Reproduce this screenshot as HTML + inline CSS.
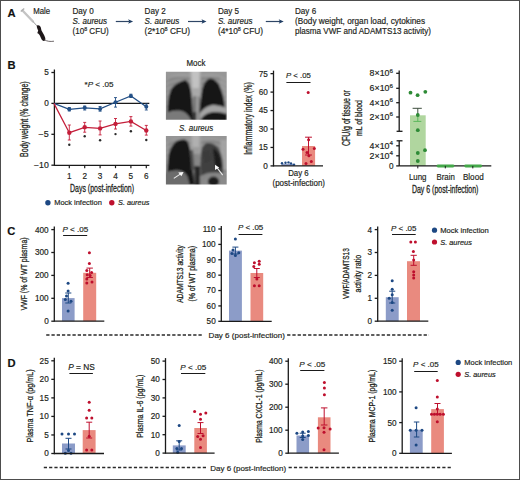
<!DOCTYPE html>
<html><head><meta charset="utf-8"><title>Figure</title>
<style>
html,body{margin:0;padding:0;background:#fff;}
svg{display:block;font-family:"Liberation Sans",sans-serif;}
text{stroke:#231f20;stroke-width:.18px;}
text.h{stroke-width:.28px;}
</style></head>
<body>
<svg width="520" height="480" viewBox="0 0 520 480" fill="#231f20">
<rect width="520" height="480" fill="#fff"/>
<rect x="0.5" y="0.5" width="519" height="479" fill="none" stroke="#4d4d4d" stroke-width="1"/>
<text x="7.4" y="17" font-size="11.2" font-weight="bold" fill="#111">A</text>
<text x="33.2" y="14.3" font-size="8.2" textLength="16.9" lengthAdjust="spacingAndGlyphs">Male</text>
<line x1="22.5" y1="10.5" x2="33" y2="21.5" stroke="#c4c4c4" stroke-width="2.4" stroke-linecap="round"/>
<line x1="33" y1="21.5" x2="37.5" y2="26.5" stroke="#9c9c9c" stroke-width="1"/>
<line x1="20.8" y1="11.6" x2="24.2" y2="8.4" stroke="#b0b0b0" stroke-width="1.4"/>
<path d="M37.4 25.2 C39.4 24.8 40.6 26.2 40.9 27.8 L41.4 30.2 C42.6 32.4 44.2 35 45.1 37.4 C45.8 39.4 45 41.2 43.6 41 C42.2 40.7 41.3 39 40.6 37.2 C40 35.6 39.2 34.6 38.2 33.6 C37.4 32.8 37.8 31.6 38.2 30.6 C37.6 29.6 37.2 28.6 37 27.6 C36.7 26.6 36.7 25.6 37.4 25.2 Z" fill="#1e1719"/>
<path d="M38.6 31.8 L37 33 L38.2 33.6 Z" fill="#2a2022"/>
<path d="M44.5 39.8 C47 41.3 50 41.8 54 41.2" stroke="#4a4245" stroke-width="0.8" fill="none"/>
<text x="72.5" y="14.4" font-size="8.6" textLength="21.16" lengthAdjust="spacingAndGlyphs">Day 0</text>
<text x="72.5" y="24.4" font-size="8.6" font-style="italic" textLength="34.67" lengthAdjust="spacingAndGlyphs">S. aureus</text>
<text x="72.5" y="34.4" font-size="8.6" textLength="36.2" lengthAdjust="spacingAndGlyphs">(10<tspan font-size="5.6" dy="-3.4">8</tspan><tspan dy="3.4"> CFU)</tspan></text>
<text x="144.6" y="14.4" font-size="8.6" textLength="21.16" lengthAdjust="spacingAndGlyphs">Day 2</text>
<text x="144.6" y="24.4" font-size="8.6" font-style="italic" textLength="34.67" lengthAdjust="spacingAndGlyphs">S. aureus</text>
<text x="144.6" y="34.4" font-size="8.6" textLength="45.4" lengthAdjust="spacingAndGlyphs">(2*10<tspan font-size="5.6" dy="-3.4">8</tspan><tspan dy="3.4"> CFU)</tspan></text>
<text x="217.9" y="14.4" font-size="8.6" textLength="21.16" lengthAdjust="spacingAndGlyphs">Day 5</text>
<text x="217.9" y="24.4" font-size="8.6" font-style="italic" textLength="34.67" lengthAdjust="spacingAndGlyphs">S. aureus</text>
<text x="217.9" y="34.4" font-size="8.6" textLength="45.1" lengthAdjust="spacingAndGlyphs">(4*10<tspan font-size="5.6" dy="-3.4">8</tspan><tspan dy="3.4"> CFU)</tspan></text>
<text x="295" y="14.4" font-size="8.6" textLength="21.16" lengthAdjust="spacingAndGlyphs">Day 6</text>
<text x="295" y="24.4" font-size="8.6" textLength="130" lengthAdjust="spacingAndGlyphs">(Body weight, organ load, cytokines</text>
<text x="295" y="34.4" font-size="8.6" textLength="136" lengthAdjust="spacingAndGlyphs">plasma VWF and ADAMTS13 activity)</text>
<line x1="115.8" y1="21.5" x2="129.6" y2="21.5" stroke="#2f4666" stroke-width="1.2" />
<path d="M128.1 19.2 L133.1 21.5 L128.1 23.8 L129.3 21.5 Z" fill="#1f3d63"/>
<line x1="188" y1="21.5" x2="203" y2="21.5" stroke="#2f4666" stroke-width="1.2" />
<path d="M201.5 19.2 L206.5 21.5 L201.5 23.8 L202.7 21.5 Z" fill="#1f3d63"/>
<line x1="265.8" y1="21.5" x2="280.2" y2="21.5" stroke="#2f4666" stroke-width="1.2" />
<path d="M278.7 19.2 L283.7 21.5 L278.7 23.8 L279.9 21.5 Z" fill="#1f3d63"/>
<text x="7.6" y="69.2" font-size="11.2" font-weight="bold" fill="#111">B</text>
<line x1="54.4" y1="69.5" x2="54.4" y2="165.95" stroke="#1a1a1a" stroke-width="1.3" />
<line x1="51.4" y1="72.5" x2="54.4" y2="72.5" stroke="#1a1a1a" stroke-width="1.3" />
<text x="48.8" y="75.41" font-size="8.2" text-anchor="end">5</text>
<line x1="51.4" y1="103.4" x2="54.4" y2="103.4" stroke="#1a1a1a" stroke-width="1.3" />
<text x="48.8" y="106.31" font-size="8.2" text-anchor="end">0</text>
<line x1="51.4" y1="134.3" x2="54.4" y2="134.3" stroke="#1a1a1a" stroke-width="1.3" />
<text x="48.8" y="137.21" font-size="8.2" text-anchor="end" textLength="10.2" lengthAdjust="spacingAndGlyphs">−5</text>
<line x1="51.4" y1="165.2" x2="54.4" y2="165.2" stroke="#1a1a1a" stroke-width="1.3" />
<text x="48.8" y="168.11" font-size="8.2" text-anchor="end" textLength="14.8" lengthAdjust="spacingAndGlyphs">−10</text>
<line x1="69.3" y1="165.2" x2="69.3" y2="168.2" stroke="#1a1a1a" stroke-width="1.2" />
<text x="69.3" y="179.3" font-size="8.2" text-anchor="middle">1</text>
<line x1="84.7" y1="165.2" x2="84.7" y2="168.2" stroke="#1a1a1a" stroke-width="1.2" />
<text x="84.7" y="179.3" font-size="8.2" text-anchor="middle">2</text>
<line x1="100.1" y1="165.2" x2="100.1" y2="168.2" stroke="#1a1a1a" stroke-width="1.2" />
<text x="100.1" y="179.3" font-size="8.2" text-anchor="middle">3</text>
<line x1="115.5" y1="165.2" x2="115.5" y2="168.2" stroke="#1a1a1a" stroke-width="1.2" />
<text x="115.5" y="179.3" font-size="8.2" text-anchor="middle">4</text>
<line x1="130.9" y1="165.2" x2="130.9" y2="168.2" stroke="#1a1a1a" stroke-width="1.2" />
<text x="130.9" y="179.3" font-size="8.2" text-anchor="middle">5</text>
<line x1="146.3" y1="165.2" x2="146.3" y2="168.2" stroke="#1a1a1a" stroke-width="1.2" />
<text x="146.3" y="179.3" font-size="8.2" text-anchor="middle">6</text>
<line x1="54.4" y1="103.4" x2="149.3" y2="103.4" stroke="#1a1a1a" stroke-width="1.3" />
<text x="0" y="0" font-size="10.6" class="h" text-anchor="middle" textLength="75.6" lengthAdjust="spacingAndGlyphs" transform="translate(27.9 119.1) rotate(-90)">Body weight (% change)</text>
<text x="70" y="191.8" font-size="10.2" class="h" textLength="64" lengthAdjust="spacingAndGlyphs">Days (post-infection)</text>
<polyline points="53.9,103.4 69.3,109.3 84.7,107.8 100.1,108.9 115.5,102.3 130.9,95.9 146.3,106.8" fill="none" stroke="#224f86" stroke-width="1.25"/>
<polyline points="53.9,103.4 69.3,132.7 84.7,127.3 100.1,128.4 115.5,123.9 130.9,121.4 146.3,130.5" fill="none" stroke="#c41e3a" stroke-width="1.25"/>
<line x1="69.3" y1="107.5" x2="69.3" y2="111" stroke="#224f86" stroke-width="0.9" />
<line x1="67.8" y1="107.5" x2="70.8" y2="107.5" stroke="#224f86" stroke-width="0.9" />
<line x1="67.8" y1="111" x2="70.8" y2="111" stroke="#224f86" stroke-width="0.9" />
<circle cx="69.3" cy="109.3" r="2" fill="#224f86"/>
<line x1="69.3" y1="125" x2="69.3" y2="140" stroke="#c41e3a" stroke-width="0.9" />
<line x1="67.8" y1="125" x2="70.8" y2="125" stroke="#c41e3a" stroke-width="0.9" />
<line x1="67.8" y1="140" x2="70.8" y2="140" stroke="#c41e3a" stroke-width="0.9" />
<circle cx="69.3" cy="132.7" r="2.2" fill="#c41e3a"/>
<circle cx="69.3" cy="144.8" r="1.2" fill="#2a2a2a"/>
<line x1="84.7" y1="106" x2="84.7" y2="110" stroke="#224f86" stroke-width="0.9" />
<line x1="83.2" y1="106" x2="86.2" y2="106" stroke="#224f86" stroke-width="0.9" />
<line x1="83.2" y1="110" x2="86.2" y2="110" stroke="#224f86" stroke-width="0.9" />
<circle cx="84.7" cy="107.8" r="2" fill="#224f86"/>
<line x1="84.7" y1="122.4" x2="84.7" y2="132.2" stroke="#c41e3a" stroke-width="0.9" />
<line x1="83.2" y1="122.4" x2="86.2" y2="122.4" stroke="#c41e3a" stroke-width="0.9" />
<line x1="83.2" y1="132.2" x2="86.2" y2="132.2" stroke="#c41e3a" stroke-width="0.9" />
<circle cx="84.7" cy="127.3" r="2.2" fill="#c41e3a"/>
<circle cx="84.7" cy="136.3" r="1.2" fill="#2a2a2a"/>
<line x1="100.1" y1="106.5" x2="100.1" y2="111.2" stroke="#224f86" stroke-width="0.9" />
<line x1="98.6" y1="106.5" x2="101.6" y2="106.5" stroke="#224f86" stroke-width="0.9" />
<line x1="98.6" y1="111.2" x2="101.6" y2="111.2" stroke="#224f86" stroke-width="0.9" />
<circle cx="100.1" cy="108.9" r="2" fill="#224f86"/>
<line x1="100.1" y1="121" x2="100.1" y2="134.9" stroke="#c41e3a" stroke-width="0.9" />
<line x1="98.6" y1="121" x2="101.6" y2="121" stroke="#c41e3a" stroke-width="0.9" />
<line x1="98.6" y1="134.9" x2="101.6" y2="134.9" stroke="#c41e3a" stroke-width="0.9" />
<circle cx="100.1" cy="128.4" r="2.2" fill="#c41e3a"/>
<circle cx="100.1" cy="140.3" r="1.2" fill="#2a2a2a"/>
<line x1="115.5" y1="97.6" x2="115.5" y2="107.1" stroke="#224f86" stroke-width="0.9" />
<line x1="114" y1="97.6" x2="117" y2="97.6" stroke="#224f86" stroke-width="0.9" />
<line x1="114" y1="107.1" x2="117" y2="107.1" stroke="#224f86" stroke-width="0.9" />
<circle cx="115.5" cy="102.3" r="2" fill="#224f86"/>
<line x1="115.5" y1="118.5" x2="115.5" y2="129" stroke="#c41e3a" stroke-width="0.9" />
<line x1="114" y1="118.5" x2="117" y2="118.5" stroke="#c41e3a" stroke-width="0.9" />
<line x1="114" y1="129" x2="117" y2="129" stroke="#c41e3a" stroke-width="0.9" />
<circle cx="115.5" cy="123.9" r="2.2" fill="#c41e3a"/>
<circle cx="115.5" cy="134.1" r="1.2" fill="#2a2a2a"/>
<line x1="130.9" y1="94.2" x2="130.9" y2="97.5" stroke="#224f86" stroke-width="0.9" />
<line x1="129.4" y1="94.2" x2="132.4" y2="94.2" stroke="#224f86" stroke-width="0.9" />
<line x1="129.4" y1="97.5" x2="132.4" y2="97.5" stroke="#224f86" stroke-width="0.9" />
<circle cx="130.9" cy="95.9" r="2" fill="#224f86"/>
<line x1="130.9" y1="116.6" x2="130.9" y2="126.1" stroke="#c41e3a" stroke-width="0.9" />
<line x1="129.4" y1="116.6" x2="132.4" y2="116.6" stroke="#c41e3a" stroke-width="0.9" />
<line x1="129.4" y1="126.1" x2="132.4" y2="126.1" stroke="#c41e3a" stroke-width="0.9" />
<circle cx="130.9" cy="121.4" r="2.2" fill="#c41e3a"/>
<circle cx="130.9" cy="131.2" r="1.2" fill="#2a2a2a"/>
<line x1="146.3" y1="104" x2="146.3" y2="110" stroke="#224f86" stroke-width="0.9" />
<line x1="144.8" y1="104" x2="147.8" y2="104" stroke="#224f86" stroke-width="0.9" />
<line x1="144.8" y1="110" x2="147.8" y2="110" stroke="#224f86" stroke-width="0.9" />
<circle cx="146.3" cy="106.8" r="2" fill="#224f86"/>
<line x1="146.3" y1="125.4" x2="146.3" y2="135.1" stroke="#c41e3a" stroke-width="0.9" />
<line x1="144.8" y1="125.4" x2="147.8" y2="125.4" stroke="#c41e3a" stroke-width="0.9" />
<line x1="144.8" y1="135.1" x2="147.8" y2="135.1" stroke="#c41e3a" stroke-width="0.9" />
<circle cx="146.3" cy="130.5" r="2.2" fill="#c41e3a"/>
<circle cx="146.3" cy="140" r="1.2" fill="#2a2a2a"/>
<text x="84.5" y="86.7" font-size="8.1" textLength="29" lengthAdjust="spacingAndGlyphs">*<tspan font-style="italic">P</tspan> &lt; .05</text>
<circle cx="47.9" cy="202.8" r="2.7" fill="#1d4883"/>
<text x="54.2" y="205.2" font-size="7.6" textLength="47.6" lengthAdjust="spacingAndGlyphs">Mock infection</text>
<circle cx="111.8" cy="202.8" r="2.7" fill="#be0f2d"/>
<text x="118" y="205.2" font-size="7.6" font-style="italic" textLength="31.4" lengthAdjust="spacingAndGlyphs">S. aureus</text>
<text x="186.5" y="66.4" font-size="8.7" textLength="18.9" lengthAdjust="spacingAndGlyphs">Mock</text>
<text x="179" y="130.9" font-size="8.7" font-style="italic" textLength="34.2" lengthAdjust="spacingAndGlyphs">S. aureus</text>
<defs>
<filter id="bl" x="-20%" y="-20%" width="140%" height="140%"><feGaussianBlur stdDeviation="1.6"/></filter>
<filter id="bl2" x="-20%" y="-20%" width="140%" height="140%"><feGaussianBlur stdDeviation="1.0"/></filter>
<clipPath id="c1"><rect x="165.9" y="71.8" width="60.8" height="48"/></clipPath>
<clipPath id="c2"><rect x="165.9" y="135.9" width="60.8" height="48.6"/></clipPath>
</defs>
<g clip-path="url(#c1)">
<g filter="url(#bl2)">
<rect x="160" y="66" width="72" height="60" fill="#868686"/>
<rect x="160" y="66" width="9" height="60" fill="#8e8e8e"/>
<rect x="220" y="66" width="12" height="45" fill="#979797"/>
<rect x="160" y="66" width="72" height="11" fill="#979797"/>
<path d="M189 66 L201 66 L200.5 98 L191.5 98 Z" fill="#a9a9a9"/>
<path d="M165 80 Q178 72 192 77" stroke="#a6a6a6" stroke-width="1.1" fill="none" opacity="0.7"/>
<path d="M199 77 Q213 72 227 80" stroke="#a6a6a6" stroke-width="1.1" fill="none" opacity="0.7"/>
<path d="M165 85 Q178 77 192 82" stroke="#a6a6a6" stroke-width="1.1" fill="none" opacity="0.7"/>
<path d="M199 82 Q213 77 227 85" stroke="#a6a6a6" stroke-width="1.1" fill="none" opacity="0.7"/>
<path d="M165 90 Q178 82 192 87" stroke="#a6a6a6" stroke-width="1.1" fill="none" opacity="0.7"/>
<path d="M199 87 Q213 82 227 90" stroke="#a6a6a6" stroke-width="1.1" fill="none" opacity="0.7"/>
<path d="M165 95 Q178 87 192 92" stroke="#a6a6a6" stroke-width="1.1" fill="none" opacity="0.7"/>
<path d="M199 92 Q213 87 227 95" stroke="#a6a6a6" stroke-width="1.1" fill="none" opacity="0.7"/>
<path d="M165 100 Q178 92 192 97" stroke="#a6a6a6" stroke-width="1.1" fill="none" opacity="0.7"/>
<path d="M199 97 Q213 92 227 100" stroke="#a6a6a6" stroke-width="1.1" fill="none" opacity="0.7"/>
<path d="M165 105 Q178 97 192 102" stroke="#a6a6a6" stroke-width="1.1" fill="none" opacity="0.7"/>
<path d="M199 102 Q213 97 227 105" stroke="#a6a6a6" stroke-width="1.1" fill="none" opacity="0.7"/>
<path d="M165 110 Q178 102 192 107" stroke="#a6a6a6" stroke-width="1.1" fill="none" opacity="0.7"/>
<path d="M199 107 Q213 102 227 110" stroke="#a6a6a6" stroke-width="1.1" fill="none" opacity="0.7"/>
<path d="M191.5 70 L199.5 70 L199 88 L192.5 88 Z" fill="#c2c2c2"/>
<path d="M185.5 80 C181 81 175 84 172 88 C169 93 168 100 167.6 107 L167.5 112.5 C172 111 177 110 181 111 C185 112 189 115 191.5 121 L193.2 121 L192.4 108 L191.2 92 C190.2 86 188.5 81.5 185.5 80 Z" fill="#121212"/>
<path d="M210 78.5 C206 79.5 203 84 201.8 92 L200.2 104 L199.2 113.5 C203 110 206 107 210.5 105.5 C215 104.5 220 105.5 224.6 107.5 L224.5 103 C223.5 96 221.5 89 218.5 84 C216 80 213 78.5 210 78.5 Z" fill="#121212"/>
<path d="M198.3 116 C202 110 206 106.5 210.5 105.8 C216 105.2 221 106.2 227 108 L227 113.5 C221 111.8 216 111.2 211 112.2 C206 113.4 202 116.2 200.2 121 Z" fill="#a4a4a4"/>
<path d="M200.2 121 C202 116.2 206 113.4 211 112.4 C216 111.6 221 112.5 227 114.2 L227 122 Z" fill="#141414"/>
<path d="M165 113.5 C172 111.2 178 110.4 182 111.3 C186 112.6 189 115.6 191 122 L165 122 Z" fill="#7a7a7a"/>
<rect x="193.2" y="96" width="6.4" height="26" fill="#777"/>
<rect x="193.2" y="112" width="3.6" height="10" fill="#333"/>
<rect x="196.6" y="95" width="1.2" height="26" fill="#bdbdbd"/>
</g></g>
<g clip-path="url(#c2)">
<g filter="url(#bl2)">
<rect x="160" y="130" width="72" height="60" fill="#868686"/>
<rect x="160" y="130" width="8" height="45" fill="#969696"/>
<rect x="220.5" y="130" width="10" height="40" fill="#a3a3a3"/>
<rect x="160" y="130" width="72" height="10" fill="#959595"/>
<path d="M189.5 130 L201.5 130 L201 154 L190.5 154 Z" fill="#9c9c9c"/>
<path d="M165 144 Q178 136 192 141" stroke="#a8a8a8" stroke-width="1.1" fill="none" opacity="0.7"/>
<path d="M199 141 Q213 136 227 144" stroke="#a8a8a8" stroke-width="1.1" fill="none" opacity="0.7"/>
<path d="M165 149 Q178 141 192 146" stroke="#a8a8a8" stroke-width="1.1" fill="none" opacity="0.7"/>
<path d="M199 146 Q213 141 227 149" stroke="#a8a8a8" stroke-width="1.1" fill="none" opacity="0.7"/>
<path d="M165 154 Q178 146 192 151" stroke="#a8a8a8" stroke-width="1.1" fill="none" opacity="0.7"/>
<path d="M199 151 Q213 146 227 154" stroke="#a8a8a8" stroke-width="1.1" fill="none" opacity="0.7"/>
<path d="M165 159 Q178 151 192 156" stroke="#a8a8a8" stroke-width="1.1" fill="none" opacity="0.7"/>
<path d="M199 156 Q213 151 227 159" stroke="#a8a8a8" stroke-width="1.1" fill="none" opacity="0.7"/>
<path d="M165 164 Q178 156 192 161" stroke="#a8a8a8" stroke-width="1.1" fill="none" opacity="0.7"/>
<path d="M199 161 Q213 156 227 164" stroke="#a8a8a8" stroke-width="1.1" fill="none" opacity="0.7"/>
<path d="M165 169 Q178 161 192 166" stroke="#a8a8a8" stroke-width="1.1" fill="none" opacity="0.7"/>
<path d="M199 166 Q213 161 227 169" stroke="#a8a8a8" stroke-width="1.1" fill="none" opacity="0.7"/>
<path d="M165 174 Q178 166 192 171" stroke="#a8a8a8" stroke-width="1.1" fill="none" opacity="0.7"/>
<path d="M199 171 Q213 166 227 174" stroke="#a8a8a8" stroke-width="1.1" fill="none" opacity="0.7"/>
<path d="M192 133 L199.5 133 L199 147 L192.5 147 Z" fill="#b0b0b0"/>
<path d="M186 140 C182 138.8 177 140 174 143.5 C170.5 147.5 168.5 153 168 160 L167 172 C171 171 175 170.3 178.5 170.6 C182.5 171 185.5 173 187.5 177 L189.5 185 L194.5 185 L193.3 174 L192 164 L190.5 153 C189.8 147 188.5 141.5 186 140 Z" fill="#161616"/>
<path d="M190 150 L193 150 L194.5 170 L191.5 170 Z" fill="#505050"/>
<path d="M207 143 C203.5 144 201.5 148 200.8 155 L200.4 166 L200.6 176 C205 173.5 209 172.5 214 172.5 C217.5 172.5 220.5 172.8 223.3 173.5 L223 165 C222.5 158 220.8 151 217.5 147 C214.5 143.8 210.5 142.5 207 143 Z" fill="#404040"/>
<path d="M213 148 C216.5 149 219.5 154 221 160 L221.6 168 L216 168.5 C214.5 162 213.2 155 213 148 Z" fill="#1e1e1e"/>
<path d="M203 152 L209 150 L211 160 L205 163 Z" fill="#3a3a3a"/>
<path d="M165 172.8 C171 171.2 175.5 170.6 179 170.9 C183 171.3 186 173.5 188 178 L189 186 L165 186 Z" fill="#6c6c6c"/>
<path d="M201 186 C203 179 207 175.5 212.5 175 C218 174.6 223 175.8 227 177.5 L227 186 Z" fill="#8a8a8a"/>
<ellipse cx="213.5" cy="181.5" rx="5.6" ry="5" fill="#1a1a1a"/>
<rect x="194.5" y="166" width="5.5" height="20" fill="#262626"/>
</g>
<path d="M173.8 178.4 L181 173.6" stroke="#ececec" stroke-width="1.1"/>
<path d="M183.6 171.9 L178.2 172.4 L181.4 176.2 Z" fill="#f8f8f8"/>
<path d="M222.7 175.2 L216.8 167.4" stroke="#ececec" stroke-width="1.1"/>
<path d="M215 164.8 L215 170 L219.2 167.6 Z" fill="#f8f8f8"/>
</g>
<line x1="273.5" y1="70.65" x2="273.5" y2="166.55" stroke="#1a1a1a" stroke-width="1.3" />
<line x1="270.5" y1="73.65" x2="273.5" y2="73.65" stroke="#1a1a1a" stroke-width="1.3" />
<text x="267.9" y="76.56" font-size="8.2" text-anchor="end">75</text>
<line x1="270.5" y1="92.1" x2="273.5" y2="92.1" stroke="#1a1a1a" stroke-width="1.3" />
<text x="267.9" y="95.01" font-size="8.2" text-anchor="end">60</text>
<line x1="270.5" y1="110.55" x2="273.5" y2="110.55" stroke="#1a1a1a" stroke-width="1.3" />
<text x="267.9" y="113.46" font-size="8.2" text-anchor="end">45</text>
<line x1="270.5" y1="129" x2="273.5" y2="129" stroke="#1a1a1a" stroke-width="1.3" />
<text x="267.9" y="131.91" font-size="8.2" text-anchor="end">30</text>
<line x1="270.5" y1="147.45" x2="273.5" y2="147.45" stroke="#1a1a1a" stroke-width="1.3" />
<text x="267.9" y="150.36" font-size="8.2" text-anchor="end">15</text>
<line x1="270.5" y1="165.9" x2="273.5" y2="165.9" stroke="#1a1a1a" stroke-width="1.3" />
<text x="267.9" y="168.81" font-size="8.2" text-anchor="end">0</text>
<rect x="281.5" y="163.93" width="13" height="1.97" fill="#8c9cc8" />
<circle cx="282" cy="163.2" r="1.2" fill="#1d4883"/>
<circle cx="285.5" cy="162.8" r="1.2" fill="#1d4883"/>
<circle cx="288.5" cy="162.4" r="1.2" fill="#1d4883"/>
<circle cx="291" cy="163.4" r="1.2" fill="#1d4883"/>
<circle cx="294" cy="164.6" r="1.2" fill="#1d4883"/>
<rect x="302" y="146" width="13.1" height="19.9" fill="#e98a7f" />
<line x1="308.5" y1="137.2" x2="308.5" y2="155" stroke="#be0f2d" stroke-width="1" />
<line x1="305.05" y1="137.2" x2="311.95" y2="137.2" stroke="#be0f2d" stroke-width="1" />
<line x1="305.05" y1="155" x2="311.95" y2="155" stroke="#be0f2d" stroke-width="1" />
<circle cx="303" cy="149.2" r="1.5" fill="#be0f2d"/>
<circle cx="314.3" cy="148.4" r="1.5" fill="#be0f2d"/>
<circle cx="308.6" cy="139.7" r="1.5" fill="#be0f2d"/>
<circle cx="307" cy="152.4" r="1.5" fill="#be0f2d"/>
<circle cx="308.9" cy="155.7" r="1.5" fill="#be0f2d"/>
<circle cx="311.3" cy="161.6" r="1.5" fill="#be0f2d"/>
<circle cx="306" cy="163.5" r="1.5" fill="#be0f2d"/>
<circle cx="308.2" cy="92.4" r="1.5" fill="#be0f2d"/>
<text x="286" y="78.2" font-size="8.1" textLength="24.8" lengthAdjust="spacingAndGlyphs"><tspan font-style="italic">P</tspan> &lt; .05</text>
<line x1="286.4" y1="82.5" x2="310.5" y2="82.5" stroke="#1a1a1a" stroke-width="1" />
<text x="288.2" y="176.3" font-size="8.3" textLength="20.5" lengthAdjust="spacingAndGlyphs">Day 6</text>
<text x="272.5" y="186.1" font-size="8.4" textLength="52.5" lengthAdjust="spacingAndGlyphs">(post-infection)</text>
<text x="0" y="0" font-size="10.4" class="h" text-anchor="middle" textLength="72.7" lengthAdjust="spacingAndGlyphs" transform="translate(251.6 118.5) rotate(-90)">Inflammatory index (%)</text>
<line x1="399.2" y1="70.6" x2="399.2" y2="131.3" stroke="#1a1a1a" stroke-width="1.3" />
<line x1="396.6" y1="131.3" x2="402.5" y2="131.3" stroke="#1a1a1a" stroke-width="1.3" />
<line x1="399.2" y1="140.8" x2="399.2" y2="165.9" stroke="#1a1a1a" stroke-width="1.3" />
<line x1="396.6" y1="140.8" x2="402.5" y2="140.8" stroke="#1a1a1a" stroke-width="1.3" />
<line x1="396.2" y1="73.3" x2="399.2" y2="73.3" stroke="#1a1a1a" stroke-width="1.3" />
<text x="369.6" y="76.2" font-size="8.2" textLength="23.4" lengthAdjust="spacingAndGlyphs">8×10<tspan font-size="5.8" dy="-3.6">6</tspan></text>
<line x1="396.2" y1="88.3" x2="399.2" y2="88.3" stroke="#1a1a1a" stroke-width="1.3" />
<text x="369.6" y="91.2" font-size="8.2" textLength="23.4" lengthAdjust="spacingAndGlyphs">6×10<tspan font-size="5.8" dy="-3.6">6</tspan></text>
<line x1="396.2" y1="102.7" x2="399.2" y2="102.7" stroke="#1a1a1a" stroke-width="1.3" />
<text x="369.6" y="105.6" font-size="8.2" textLength="23.4" lengthAdjust="spacingAndGlyphs">4×10<tspan font-size="5.8" dy="-3.6">6</tspan></text>
<line x1="396.2" y1="117" x2="399.2" y2="117" stroke="#1a1a1a" stroke-width="1.3" />
<text x="369.6" y="119.9" font-size="8.2" textLength="23.4" lengthAdjust="spacingAndGlyphs">2×10<tspan font-size="5.8" dy="-3.6">6</tspan></text>
<line x1="396.2" y1="145.8" x2="399.2" y2="145.8" stroke="#1a1a1a" stroke-width="1.3" />
<text x="369.6" y="148.7" font-size="8.2" textLength="23.4" lengthAdjust="spacingAndGlyphs">4×10<tspan font-size="5.8" dy="-3.6">4</tspan></text>
<line x1="396.2" y1="155.8" x2="399.2" y2="155.8" stroke="#1a1a1a" stroke-width="1.3" />
<text x="369.6" y="158.7" font-size="8.2" textLength="23.4" lengthAdjust="spacingAndGlyphs">2×10<tspan font-size="5.8" dy="-3.6">4</tspan></text>
<line x1="396.2" y1="165.9" x2="399.2" y2="165.9" stroke="#1a1a1a" stroke-width="1.3" />
<text x="393.6" y="168.8" font-size="8.2" text-anchor="end">0</text>
<rect x="410" y="115.3" width="15.7" height="50.6" fill="#b0d69f" />
<line x1="417.8" y1="115.3" x2="417.8" y2="121.4" stroke="#5cb85c" stroke-width="1" />
<line x1="413.4" y1="121.4" x2="421.3" y2="121.4" stroke="#5cb85c" stroke-width="1" />
<line x1="417.8" y1="108.3" x2="417.8" y2="115.3" stroke="#3d4d3d" stroke-width="1" />
<line x1="412.6" y1="108.3" x2="421.8" y2="108.3" stroke="#3d4d3d" stroke-width="1" />
<line x1="399.2" y1="165.9" x2="491.3" y2="165.9" stroke="#1a1a1a" stroke-width="1.3" />
<circle cx="410.5" cy="92.7" r="1.9" fill="#2e8b36"/>
<circle cx="417.6" cy="95.2" r="1.9" fill="#2e8b36"/>
<circle cx="425.3" cy="91.8" r="1.9" fill="#2e8b36"/>
<circle cx="417.8" cy="115" r="1.9" fill="#2e8b36"/>
<circle cx="417.8" cy="130.2" r="1.9" fill="#2e8b36"/>
<circle cx="417.8" cy="153" r="1.9" fill="#2e8b36"/>
<circle cx="425" cy="150.2" r="1.9" fill="#2e8b36"/>
<circle cx="417.8" cy="161" r="1.9" fill="#2e8b36"/>
<rect x="436.6" y="164.5" width="17.8" height="2.9" fill="#45a84a" rx="1.4"/>
<rect x="464.2" y="164.5" width="17.9" height="2.9" fill="#45a84a" rx="1.4"/>
<line x1="417.8" y1="165.9" x2="417.8" y2="168.4" stroke="#1a1a1a" stroke-width="1" />
<line x1="445.3" y1="165.9" x2="445.3" y2="168.4" stroke="#1a1a1a" stroke-width="1" />
<line x1="472.8" y1="165.9" x2="472.8" y2="168.4" stroke="#1a1a1a" stroke-width="1" />
<text x="408.9" y="180.2" font-size="8.5" textLength="17.6" lengthAdjust="spacingAndGlyphs">Lung</text>
<text x="436.4" y="180.2" font-size="8.5" textLength="18.4" lengthAdjust="spacingAndGlyphs">Brain</text>
<text x="462.9" y="180.2" font-size="8.5" textLength="20.8" lengthAdjust="spacingAndGlyphs">Blood</text>
<text x="411.9" y="192.6" font-size="10" class="h" textLength="66.5" lengthAdjust="spacingAndGlyphs">Day 6 (post-infection)</text>
<text x="0" y="0" font-size="10" class="h" text-anchor="middle" textLength="56" lengthAdjust="spacingAndGlyphs" transform="translate(350 118.1) rotate(-90)">CFU/g of tissue or</text>
<text x="0" y="0" font-size="9.8" class="h" text-anchor="middle" textLength="35.8" lengthAdjust="spacingAndGlyphs" transform="translate(361.9 118) rotate(-90)">mL of blood</text>
<text x="7.2" y="235" font-size="11.2" font-weight="bold" fill="#111">C</text>
<line x1="54.3" y1="226.6" x2="54.3" y2="321.85" stroke="#1a1a1a" stroke-width="1.3" />
<line x1="51.3" y1="229.6" x2="54.3" y2="229.6" stroke="#1a1a1a" stroke-width="1.3" />
<text x="48.7" y="232.51" font-size="8.2" text-anchor="end">400</text>
<line x1="51.3" y1="252.5" x2="54.3" y2="252.5" stroke="#1a1a1a" stroke-width="1.3" />
<text x="48.7" y="255.41" font-size="8.2" text-anchor="end">300</text>
<line x1="51.3" y1="275.4" x2="54.3" y2="275.4" stroke="#1a1a1a" stroke-width="1.3" />
<text x="48.7" y="278.31" font-size="8.2" text-anchor="end">200</text>
<line x1="51.3" y1="298.3" x2="54.3" y2="298.3" stroke="#1a1a1a" stroke-width="1.3" />
<text x="48.7" y="301.21" font-size="8.2" text-anchor="end">100</text>
<line x1="51.3" y1="321.2" x2="54.3" y2="321.2" stroke="#1a1a1a" stroke-width="1.3" />
<text x="48.7" y="324.11" font-size="8.2" text-anchor="end">0</text>
<rect x="62" y="298.1" width="12.6" height="23.1" fill="#8c9cc8" />
<rect x="83.2" y="272.8" width="13" height="48.4" fill="#e98a7f" />
<line x1="68.3" y1="293" x2="68.3" y2="303" stroke="#1d4883" stroke-width="1" />
<line x1="65.25" y1="293" x2="71.35" y2="293" stroke="#1d4883" stroke-width="1" />
<line x1="65.25" y1="303" x2="71.35" y2="303" stroke="#1d4883" stroke-width="1" />
<line x1="89.7" y1="268.1" x2="89.7" y2="277.5" stroke="#be0f2d" stroke-width="1" />
<line x1="86.5" y1="268.1" x2="92.9" y2="268.1" stroke="#be0f2d" stroke-width="1" />
<line x1="86.5" y1="277.5" x2="92.9" y2="277.5" stroke="#be0f2d" stroke-width="1" />
<circle cx="68.1" cy="283.2" r="1.5" fill="#1d4883"/>
<circle cx="68.1" cy="291" r="1.5" fill="#1d4883"/>
<circle cx="65.3" cy="299.6" r="1.5" fill="#1d4883"/>
<circle cx="71" cy="301.3" r="1.5" fill="#1d4883"/>
<circle cx="68.1" cy="310.9" r="1.5" fill="#1d4883"/>
<circle cx="66.5" cy="296" r="1.5" fill="#1d4883"/>
<circle cx="89.4" cy="252.8" r="1.5" fill="#be0f2d"/>
<circle cx="89.4" cy="263.4" r="1.5" fill="#be0f2d"/>
<circle cx="86.8" cy="270.4" r="1.5" fill="#be0f2d"/>
<circle cx="91.6" cy="272.6" r="1.5" fill="#be0f2d"/>
<circle cx="87.2" cy="274.7" r="1.5" fill="#be0f2d"/>
<circle cx="90.1" cy="275.5" r="1.5" fill="#be0f2d"/>
<circle cx="86.8" cy="279.1" r="1.5" fill="#be0f2d"/>
<circle cx="86.8" cy="283" r="1.5" fill="#be0f2d"/>
<circle cx="92" cy="282" r="1.5" fill="#be0f2d"/>
<text x="62.4" y="231.7" font-size="8.1" textLength="25.8" lengthAdjust="spacingAndGlyphs"><tspan font-style="italic">P</tspan> &lt; .05</text>
<line x1="63.1" y1="235.5" x2="87.2" y2="235.5" stroke="#1a1a1a" stroke-width="1" />
<text x="0" y="0" font-size="9.8" class="h" text-anchor="middle" textLength="73.2" lengthAdjust="spacingAndGlyphs" transform="translate(27.4 274) rotate(-90)">VWF (% of WT plasma)</text>
<line x1="221.3" y1="226.02" x2="221.3" y2="321.95" stroke="#1a1a1a" stroke-width="1.3" />
<line x1="218.3" y1="229.02" x2="221.3" y2="229.02" stroke="#1a1a1a" stroke-width="1.3" />
<text x="215.7" y="231.93" font-size="8.2" text-anchor="end">110</text>
<line x1="218.3" y1="244.4" x2="221.3" y2="244.4" stroke="#1a1a1a" stroke-width="1.3" />
<text x="215.7" y="247.31" font-size="8.2" text-anchor="end">100</text>
<line x1="218.3" y1="259.78" x2="221.3" y2="259.78" stroke="#1a1a1a" stroke-width="1.3" />
<text x="215.7" y="262.69" font-size="8.2" text-anchor="end">90</text>
<line x1="218.3" y1="275.16" x2="221.3" y2="275.16" stroke="#1a1a1a" stroke-width="1.3" />
<text x="215.7" y="278.07" font-size="8.2" text-anchor="end">80</text>
<line x1="218.3" y1="290.54" x2="221.3" y2="290.54" stroke="#1a1a1a" stroke-width="1.3" />
<text x="215.7" y="293.45" font-size="8.2" text-anchor="end">70</text>
<line x1="218.3" y1="305.92" x2="221.3" y2="305.92" stroke="#1a1a1a" stroke-width="1.3" />
<text x="215.7" y="308.83" font-size="8.2" text-anchor="end">60</text>
<line x1="218.3" y1="321.3" x2="221.3" y2="321.3" stroke="#1a1a1a" stroke-width="1.3" />
<text x="215.7" y="324.21" font-size="8.2" text-anchor="end">50</text>
<rect x="229" y="250.6" width="12.9" height="70.7" fill="#8c9cc8" />
<rect x="250.5" y="273" width="12.7" height="48.3" fill="#e98a7f" />
<line x1="235.4" y1="247.1" x2="235.4" y2="254" stroke="#1d4883" stroke-width="1" />
<line x1="232.4" y1="247.1" x2="238.4" y2="247.1" stroke="#1d4883" stroke-width="1" />
<line x1="232.4" y1="254" x2="238.4" y2="254" stroke="#1d4883" stroke-width="1" />
<line x1="256.8" y1="268.5" x2="256.8" y2="277.5" stroke="#be0f2d" stroke-width="1" />
<line x1="253.8" y1="268.5" x2="259.8" y2="268.5" stroke="#be0f2d" stroke-width="1" />
<line x1="253.8" y1="277.5" x2="259.8" y2="277.5" stroke="#be0f2d" stroke-width="1" />
<circle cx="235.4" cy="239" r="1.5" fill="#1d4883"/>
<circle cx="231.9" cy="253.5" r="1.5" fill="#1d4883"/>
<circle cx="238.8" cy="252.8" r="1.5" fill="#1d4883"/>
<circle cx="235.4" cy="255.5" r="1.5" fill="#1d4883"/>
<circle cx="233" cy="250" r="1.5" fill="#1d4883"/>
<circle cx="254.4" cy="262.7" r="1.5" fill="#be0f2d"/>
<circle cx="259.2" cy="261.2" r="1.5" fill="#be0f2d"/>
<circle cx="259.2" cy="264.2" r="1.5" fill="#be0f2d"/>
<circle cx="253.8" cy="266.5" r="1.5" fill="#be0f2d"/>
<circle cx="256.9" cy="279" r="1.5" fill="#be0f2d"/>
<circle cx="254.4" cy="285.8" r="1.5" fill="#be0f2d"/>
<circle cx="259.2" cy="285.8" r="1.5" fill="#be0f2d"/>
<text x="237.9" y="230.1" font-size="8.1" textLength="25.4" lengthAdjust="spacingAndGlyphs"><tspan font-style="italic">P</tspan> &lt; .05</text>
<line x1="238.6" y1="234.5" x2="262.4" y2="234.5" stroke="#1a1a1a" stroke-width="1" />
<text x="0" y="0" font-size="9.8" class="h" text-anchor="middle" textLength="57.7" lengthAdjust="spacingAndGlyphs" transform="translate(182.7 274) rotate(-90)">ADAMTS13 activity</text>
<text x="0" y="0" font-size="9.8" class="h" text-anchor="middle" textLength="55.6" lengthAdjust="spacingAndGlyphs" transform="translate(194.6 273.8) rotate(-90)">(% of WT plasma)</text>
<line x1="377.7" y1="226.6" x2="377.7" y2="321.85" stroke="#1a1a1a" stroke-width="1.3" />
<line x1="374.7" y1="229.6" x2="377.7" y2="229.6" stroke="#1a1a1a" stroke-width="1.3" />
<text x="372.1" y="232.51" font-size="8.2" text-anchor="end">4</text>
<line x1="374.7" y1="252.5" x2="377.7" y2="252.5" stroke="#1a1a1a" stroke-width="1.3" />
<text x="372.1" y="255.41" font-size="8.2" text-anchor="end">3</text>
<line x1="374.7" y1="275.4" x2="377.7" y2="275.4" stroke="#1a1a1a" stroke-width="1.3" />
<text x="372.1" y="278.31" font-size="8.2" text-anchor="end">2</text>
<line x1="374.7" y1="298.3" x2="377.7" y2="298.3" stroke="#1a1a1a" stroke-width="1.3" />
<text x="372.1" y="301.21" font-size="8.2" text-anchor="end">1</text>
<line x1="374.7" y1="321.2" x2="377.7" y2="321.2" stroke="#1a1a1a" stroke-width="1.3" />
<text x="372.1" y="324.11" font-size="8.2" text-anchor="end">0</text>
<rect x="385.8" y="297.2" width="12.9" height="24" fill="#8c9cc8" />
<rect x="407" y="261.2" width="13" height="60" fill="#e98a7f" />
<line x1="392.2" y1="291.2" x2="392.2" y2="303" stroke="#1d4883" stroke-width="1" />
<line x1="389.15" y1="291.2" x2="395.25" y2="291.2" stroke="#1d4883" stroke-width="1" />
<line x1="389.15" y1="303" x2="395.25" y2="303" stroke="#1d4883" stroke-width="1" />
<line x1="413.7" y1="255.3" x2="413.7" y2="265.3" stroke="#be0f2d" stroke-width="1" />
<line x1="410.6" y1="255.3" x2="416.8" y2="255.3" stroke="#be0f2d" stroke-width="1" />
<line x1="410.6" y1="265.3" x2="416.8" y2="265.3" stroke="#be0f2d" stroke-width="1" />
<circle cx="392.2" cy="280.8" r="1.5" fill="#1d4883"/>
<circle cx="392.2" cy="289.2" r="1.5" fill="#1d4883"/>
<circle cx="392.2" cy="294.7" r="1.5" fill="#1d4883"/>
<circle cx="389.2" cy="298.3" r="1.5" fill="#1d4883"/>
<circle cx="392.2" cy="302.5" r="1.5" fill="#1d4883"/>
<circle cx="392.2" cy="310.3" r="1.5" fill="#1d4883"/>
<circle cx="410.8" cy="241.9" r="1.5" fill="#be0f2d"/>
<circle cx="415.4" cy="241.9" r="1.5" fill="#be0f2d"/>
<circle cx="413.4" cy="251.6" r="1.5" fill="#be0f2d"/>
<circle cx="413.7" cy="260" r="1.5" fill="#be0f2d"/>
<circle cx="413.7" cy="271.7" r="1.5" fill="#be0f2d"/>
<circle cx="413.7" cy="275" r="1.5" fill="#be0f2d"/>
<circle cx="413.7" cy="278" r="1.5" fill="#be0f2d"/>
<text x="391" y="230.6" font-size="8.1" textLength="25.5" lengthAdjust="spacingAndGlyphs"><tspan font-style="italic">P</tspan> &lt; .05</text>
<line x1="392" y1="234.5" x2="415.7" y2="234.5" stroke="#1a1a1a" stroke-width="1" />
<text x="0" y="0" font-size="9.8" class="h" text-anchor="middle" textLength="51" lengthAdjust="spacingAndGlyphs" transform="translate(349.2 273.6) rotate(-90)">VWF/ADAMTS13</text>
<text x="0" y="0" font-size="9.8" class="h" text-anchor="middle" textLength="37.8" lengthAdjust="spacingAndGlyphs" transform="translate(361.1 273.6) rotate(-90)">activity ratio</text>
<circle cx="434.5" cy="230.2" r="2.6" fill="#1d4883"/>
<text x="440.2" y="232.7" font-size="7.6" textLength="48.6" lengthAdjust="spacingAndGlyphs">Mock infection</text>
<circle cx="434.5" cy="242" r="2.6" fill="#be0f2d"/>
<text x="440.2" y="244.6" font-size="7.6" font-style="italic" textLength="31.7" lengthAdjust="spacingAndGlyphs">S. aureus</text>
<line x1="46.2" y1="335" x2="203.2" y2="335" stroke="#2a2a2a" stroke-width="1.3" stroke-dasharray="3.3 1.95"/>
<text x="208.6" y="338" font-size="8.1" textLength="76.3" lengthAdjust="spacingAndGlyphs">Day 6 (post-infection)</text>
<line x1="287.1" y1="335" x2="429" y2="335" stroke="#2a2a2a" stroke-width="1.3" stroke-dasharray="3.3 1.95"/>
<text x="7.5" y="367" font-size="11.2" font-weight="bold" fill="#111">D</text>
<line x1="54.3" y1="357.8" x2="54.3" y2="454.15" stroke="#1a1a1a" stroke-width="1.3" />
<line x1="51.3" y1="360.8" x2="54.3" y2="360.8" stroke="#1a1a1a" stroke-width="1.3" />
<text x="48.7" y="363.71" font-size="8.2" text-anchor="end">25</text>
<line x1="51.3" y1="379.34" x2="54.3" y2="379.34" stroke="#1a1a1a" stroke-width="1.3" />
<text x="48.7" y="382.25" font-size="8.2" text-anchor="end">20</text>
<line x1="51.3" y1="397.88" x2="54.3" y2="397.88" stroke="#1a1a1a" stroke-width="1.3" />
<text x="48.7" y="400.79" font-size="8.2" text-anchor="end">15</text>
<line x1="51.3" y1="416.42" x2="54.3" y2="416.42" stroke="#1a1a1a" stroke-width="1.3" />
<text x="48.7" y="419.33" font-size="8.2" text-anchor="end">10</text>
<line x1="51.3" y1="434.96" x2="54.3" y2="434.96" stroke="#1a1a1a" stroke-width="1.3" />
<text x="48.7" y="437.87" font-size="8.2" text-anchor="end">5</text>
<line x1="51.3" y1="453.5" x2="54.3" y2="453.5" stroke="#1a1a1a" stroke-width="1.3" />
<text x="48.7" y="456.41" font-size="8.2" text-anchor="end">0</text>
<rect x="62" y="443.5" width="13" height="10" fill="#8c9cc8" />
<rect x="82.7" y="430.1" width="12.9" height="23.4" fill="#e98a7f" />
<line x1="68.5" y1="438.3" x2="68.5" y2="449" stroke="#1d4883" stroke-width="1" />
<line x1="65.5" y1="438.3" x2="71.5" y2="438.3" stroke="#1d4883" stroke-width="1" />
<line x1="65.5" y1="449" x2="71.5" y2="449" stroke="#1d4883" stroke-width="1" />
<line x1="89.2" y1="422.2" x2="89.2" y2="438" stroke="#be0f2d" stroke-width="1" />
<line x1="86.2" y1="422.2" x2="92.2" y2="422.2" stroke="#be0f2d" stroke-width="1" />
<line x1="86.2" y1="438" x2="92.2" y2="438" stroke="#be0f2d" stroke-width="1" />
<circle cx="62" cy="434" r="1.5" fill="#1d4883"/>
<circle cx="68.5" cy="434" r="1.5" fill="#1d4883"/>
<circle cx="74.5" cy="434" r="1.5" fill="#1d4883"/>
<circle cx="68.5" cy="450.4" r="1.5" fill="#1d4883"/>
<circle cx="65.3" cy="453.3" r="1.5" fill="#1d4883"/>
<circle cx="71" cy="453.3" r="1.5" fill="#1d4883"/>
<circle cx="89.2" cy="402.3" r="1.5" fill="#be0f2d"/>
<circle cx="89.2" cy="410.2" r="1.5" fill="#be0f2d"/>
<circle cx="86.6" cy="418" r="1.5" fill="#be0f2d"/>
<circle cx="91.8" cy="418" r="1.5" fill="#be0f2d"/>
<circle cx="89.2" cy="436.2" r="1.5" fill="#be0f2d"/>
<circle cx="86.6" cy="450" r="1.5" fill="#be0f2d"/>
<circle cx="91.8" cy="450" r="1.5" fill="#be0f2d"/>
<text x="68.2" y="369.5" font-size="8.3" textLength="26.6" lengthAdjust="spacingAndGlyphs"><tspan font-style="italic">P</tspan> = NS</text>
<line x1="69.4" y1="373.5" x2="92.9" y2="373.5" stroke="#1a1a1a" stroke-width="1" />
<text x="0" y="0" font-size="9.8" class="h" text-anchor="middle" textLength="73.1" lengthAdjust="spacingAndGlyphs" transform="translate(32.7 405.9) rotate(-90)">Plasma TNF-α (pg/mL)</text>
<line x1="165.5" y1="358.1" x2="165.5" y2="453.75" stroke="#1a1a1a" stroke-width="1.3" />
<line x1="162.5" y1="361.1" x2="165.5" y2="361.1" stroke="#1a1a1a" stroke-width="1.3" />
<text x="159.9" y="364.01" font-size="8.2" text-anchor="end">50</text>
<line x1="162.5" y1="379.5" x2="165.5" y2="379.5" stroke="#1a1a1a" stroke-width="1.3" />
<text x="159.9" y="382.41" font-size="8.2" text-anchor="end">40</text>
<line x1="162.5" y1="397.9" x2="165.5" y2="397.9" stroke="#1a1a1a" stroke-width="1.3" />
<text x="159.9" y="400.81" font-size="8.2" text-anchor="end">30</text>
<line x1="162.5" y1="416.3" x2="165.5" y2="416.3" stroke="#1a1a1a" stroke-width="1.3" />
<text x="159.9" y="419.21" font-size="8.2" text-anchor="end">20</text>
<line x1="162.5" y1="434.7" x2="165.5" y2="434.7" stroke="#1a1a1a" stroke-width="1.3" />
<text x="159.9" y="437.61" font-size="8.2" text-anchor="end">10</text>
<line x1="162.5" y1="453.1" x2="165.5" y2="453.1" stroke="#1a1a1a" stroke-width="1.3" />
<text x="159.9" y="456.01" font-size="8.2" text-anchor="end">0</text>
<rect x="172.8" y="445.4" width="12.9" height="7.7" fill="#8c9cc8" />
<rect x="194.3" y="428" width="12.6" height="25.1" fill="#e98a7f" />
<line x1="179.2" y1="440.8" x2="179.2" y2="450" stroke="#1d4883" stroke-width="1" />
<line x1="176.2" y1="440.8" x2="182.2" y2="440.8" stroke="#1d4883" stroke-width="1" />
<line x1="176.2" y1="450" x2="182.2" y2="450" stroke="#1d4883" stroke-width="1" />
<line x1="200.5" y1="422.6" x2="200.5" y2="433.5" stroke="#be0f2d" stroke-width="1" />
<line x1="197.5" y1="422.6" x2="203.5" y2="422.6" stroke="#be0f2d" stroke-width="1" />
<line x1="197.5" y1="433.5" x2="203.5" y2="433.5" stroke="#be0f2d" stroke-width="1" />
<circle cx="179.2" cy="425.4" r="1.5" fill="#1d4883"/>
<circle cx="179.2" cy="441.5" r="1.5" fill="#1d4883"/>
<circle cx="176.9" cy="448.5" r="1.5" fill="#1d4883"/>
<circle cx="181.5" cy="448.5" r="1.5" fill="#1d4883"/>
<circle cx="177.7" cy="452.3" r="1.5" fill="#1d4883"/>
<circle cx="194.6" cy="411.5" r="1.5" fill="#be0f2d"/>
<circle cx="200.5" cy="414.3" r="1.5" fill="#be0f2d"/>
<circle cx="205.8" cy="413.1" r="1.5" fill="#be0f2d"/>
<circle cx="200.5" cy="419.2" r="1.5" fill="#be0f2d"/>
<circle cx="197.7" cy="436.6" r="1.5" fill="#be0f2d"/>
<circle cx="203.1" cy="435.7" r="1.5" fill="#be0f2d"/>
<circle cx="200.5" cy="439.2" r="1.5" fill="#be0f2d"/>
<circle cx="200.5" cy="447.4" r="1.5" fill="#be0f2d"/>
<text x="180.2" y="369.6" font-size="8.1" textLength="26" lengthAdjust="spacingAndGlyphs"><tspan font-style="italic">P</tspan> &lt; .05</text>
<line x1="181" y1="373.5" x2="205.3" y2="373.5" stroke="#1a1a1a" stroke-width="1" />
<text x="0" y="0" font-size="9.8" class="h" text-anchor="middle" textLength="63.2" lengthAdjust="spacingAndGlyphs" transform="translate(143.1 406.2) rotate(-90)">Plasma IL-6 (pg/mL)</text>
<line x1="288.3" y1="358.2" x2="288.3" y2="453.85" stroke="#1a1a1a" stroke-width="1.3" />
<line x1="285.3" y1="361.2" x2="288.3" y2="361.2" stroke="#1a1a1a" stroke-width="1.3" />
<text x="282.7" y="364.11" font-size="8.2" text-anchor="end">400</text>
<line x1="285.3" y1="384.2" x2="288.3" y2="384.2" stroke="#1a1a1a" stroke-width="1.3" />
<text x="282.7" y="387.11" font-size="8.2" text-anchor="end">300</text>
<line x1="285.3" y1="407.2" x2="288.3" y2="407.2" stroke="#1a1a1a" stroke-width="1.3" />
<text x="282.7" y="410.11" font-size="8.2" text-anchor="end">200</text>
<line x1="285.3" y1="430.2" x2="288.3" y2="430.2" stroke="#1a1a1a" stroke-width="1.3" />
<text x="282.7" y="433.11" font-size="8.2" text-anchor="end">100</text>
<line x1="285.3" y1="453.2" x2="288.3" y2="453.2" stroke="#1a1a1a" stroke-width="1.3" />
<text x="282.7" y="456.11" font-size="8.2" text-anchor="end">0</text>
<rect x="296.5" y="435.5" width="12.6" height="17.7" fill="#8c9cc8" />
<rect x="317.9" y="417.3" width="12.6" height="35.9" fill="#e98a7f" />
<line x1="302.7" y1="433.2" x2="302.7" y2="437.5" stroke="#1d4883" stroke-width="1" />
<line x1="299.7" y1="433.2" x2="305.7" y2="433.2" stroke="#1d4883" stroke-width="1" />
<line x1="299.7" y1="437.5" x2="305.7" y2="437.5" stroke="#1d4883" stroke-width="1" />
<line x1="324.2" y1="407.9" x2="324.2" y2="425" stroke="#be0f2d" stroke-width="1" />
<line x1="320.95" y1="407.9" x2="327.45" y2="407.9" stroke="#be0f2d" stroke-width="1" />
<line x1="320.95" y1="425" x2="327.45" y2="425" stroke="#be0f2d" stroke-width="1" />
<circle cx="296.9" cy="433.2" r="1.5" fill="#1d4883"/>
<circle cx="302.7" cy="432.1" r="1.5" fill="#1d4883"/>
<circle cx="308.4" cy="431.4" r="1.5" fill="#1d4883"/>
<circle cx="308.4" cy="435.5" r="1.5" fill="#1d4883"/>
<circle cx="302.7" cy="439.5" r="1.5" fill="#1d4883"/>
<circle cx="302.7" cy="435.9" r="1.5" fill="#1d4883"/>
<circle cx="324.4" cy="382.5" r="1.5" fill="#be0f2d"/>
<circle cx="324.4" cy="388.1" r="1.5" fill="#be0f2d"/>
<circle cx="324.4" cy="394.7" r="1.5" fill="#be0f2d"/>
<circle cx="318.2" cy="428" r="1.5" fill="#be0f2d"/>
<circle cx="324" cy="427.8" r="1.5" fill="#be0f2d"/>
<circle cx="330.1" cy="429.1" r="1.5" fill="#be0f2d"/>
<circle cx="324" cy="432.2" r="1.5" fill="#be0f2d"/>
<circle cx="324" cy="449.8" r="1.5" fill="#be0f2d"/>
<text x="299.3" y="366.6" font-size="8.1" textLength="26" lengthAdjust="spacingAndGlyphs"><tspan font-style="italic">P</tspan> &lt; .05</text>
<line x1="300.2" y1="370.5" x2="324.4" y2="370.5" stroke="#1a1a1a" stroke-width="1" />
<text x="0" y="0" font-size="9.8" class="h" text-anchor="middle" textLength="73.4" lengthAdjust="spacingAndGlyphs" transform="translate(261.9 406.1) rotate(-90)">Plasma CXCL-1 (pg/mL)</text>
<line x1="402.2" y1="358.2" x2="402.2" y2="453.95" stroke="#1a1a1a" stroke-width="1.3" />
<line x1="399.2" y1="361.2" x2="402.2" y2="361.2" stroke="#1a1a1a" stroke-width="1.3" />
<text x="396.6" y="364.11" font-size="8.2" text-anchor="end">150</text>
<line x1="399.2" y1="391.9" x2="402.2" y2="391.9" stroke="#1a1a1a" stroke-width="1.3" />
<text x="396.6" y="394.81" font-size="8.2" text-anchor="end">100</text>
<line x1="399.2" y1="422.6" x2="402.2" y2="422.6" stroke="#1a1a1a" stroke-width="1.3" />
<text x="396.6" y="425.51" font-size="8.2" text-anchor="end">50</text>
<line x1="399.2" y1="453.3" x2="402.2" y2="453.3" stroke="#1a1a1a" stroke-width="1.3" />
<text x="396.6" y="456.21" font-size="8.2" text-anchor="end">0</text>
<rect x="409.9" y="429.7" width="12.8" height="23.6" fill="#8c9cc8" />
<rect x="431.2" y="409.1" width="12.7" height="44.2" fill="#e98a7f" />
<line x1="416.6" y1="422" x2="416.6" y2="437" stroke="#1d4883" stroke-width="1" />
<line x1="413.85" y1="422" x2="419.35" y2="422" stroke="#1d4883" stroke-width="1" />
<line x1="413.85" y1="437" x2="419.35" y2="437" stroke="#1d4883" stroke-width="1" />
<line x1="437.5" y1="403.5" x2="437.5" y2="414" stroke="#be0f2d" stroke-width="1" />
<line x1="434.5" y1="403.5" x2="440.5" y2="403.5" stroke="#be0f2d" stroke-width="1" />
<line x1="434.5" y1="414" x2="440.5" y2="414" stroke="#be0f2d" stroke-width="1" />
<circle cx="416.1" cy="407.8" r="1.5" fill="#1d4883"/>
<circle cx="410.3" cy="430.3" r="1.5" fill="#1d4883"/>
<circle cx="416.1" cy="430.3" r="1.5" fill="#1d4883"/>
<circle cx="422" cy="430.3" r="1.5" fill="#1d4883"/>
<circle cx="416.1" cy="444.9" r="1.5" fill="#1d4883"/>
<circle cx="437.3" cy="380.5" r="1.5" fill="#be0f2d"/>
<circle cx="437.3" cy="396.9" r="1.5" fill="#be0f2d"/>
<circle cx="437.3" cy="408.9" r="1.5" fill="#be0f2d"/>
<circle cx="431.5" cy="414.3" r="1.5" fill="#be0f2d"/>
<circle cx="434.4" cy="414.3" r="1.5" fill="#be0f2d"/>
<circle cx="437.3" cy="414.3" r="1.5" fill="#be0f2d"/>
<circle cx="440.2" cy="414.3" r="1.5" fill="#be0f2d"/>
<circle cx="443.4" cy="414.3" r="1.5" fill="#be0f2d"/>
<circle cx="437.3" cy="421.7" r="1.5" fill="#be0f2d"/>
<text x="413.1" y="367.4" font-size="8.1" textLength="25.5" lengthAdjust="spacingAndGlyphs"><tspan font-style="italic">P</tspan> &lt; .05</text>
<line x1="414.2" y1="371.5" x2="437.7" y2="371.5" stroke="#1a1a1a" stroke-width="1" />
<text x="0" y="0" font-size="9.8" class="h" text-anchor="middle" textLength="72.8" lengthAdjust="spacingAndGlyphs" transform="translate(375.4 406.1) rotate(-90)">Plasma MCP-1 (pg/mL)</text>
<circle cx="458.2" cy="362.4" r="2.6" fill="#1d4883"/>
<text x="464.3" y="365" font-size="7.6" textLength="48" lengthAdjust="spacingAndGlyphs">Mock infection</text>
<circle cx="458.2" cy="374.3" r="2.6" fill="#be0f2d"/>
<text x="464.3" y="376.9" font-size="7.6" font-style="italic" textLength="31.4" lengthAdjust="spacingAndGlyphs">S. aureus</text>
<line x1="43.8" y1="467.5" x2="207" y2="467.5" stroke="#2a2a2a" stroke-width="1.3" stroke-dasharray="3.2 2.1"/>
<text x="210.3" y="470.5" font-size="8.1" textLength="75.8" lengthAdjust="spacingAndGlyphs">Day 6 (post-infection)</text>
<line x1="288.6" y1="467.5" x2="452.1" y2="467.5" stroke="#2a2a2a" stroke-width="1.3" stroke-dasharray="3.2 2.1"/>
<line x1="54.4" y1="165.3" x2="149.4" y2="165.3" stroke="#1a1a1a" stroke-width="1.3"/>
<line x1="273.5" y1="165.9" x2="323" y2="165.9" stroke="#1a1a1a" stroke-width="1.3"/>
<line x1="54.3" y1="321.2" x2="104.3" y2="321.2" stroke="#1a1a1a" stroke-width="1.3"/>
<line x1="221.3" y1="321.3" x2="271.7" y2="321.3" stroke="#1a1a1a" stroke-width="1.3"/>
<line x1="377.7" y1="321.2" x2="428.3" y2="321.2" stroke="#1a1a1a" stroke-width="1.3"/>
<line x1="54.3" y1="453.5" x2="104" y2="453.5" stroke="#1a1a1a" stroke-width="1.3"/>
<line x1="165.5" y1="453.1" x2="214.6" y2="453.1" stroke="#1a1a1a" stroke-width="1.3"/>
<line x1="288.3" y1="453.2" x2="338.9" y2="453.2" stroke="#1a1a1a" stroke-width="1.3"/>
<line x1="402.2" y1="453.3" x2="451.9" y2="453.3" stroke="#1a1a1a" stroke-width="1.3"/>
</svg>
</body></html>
